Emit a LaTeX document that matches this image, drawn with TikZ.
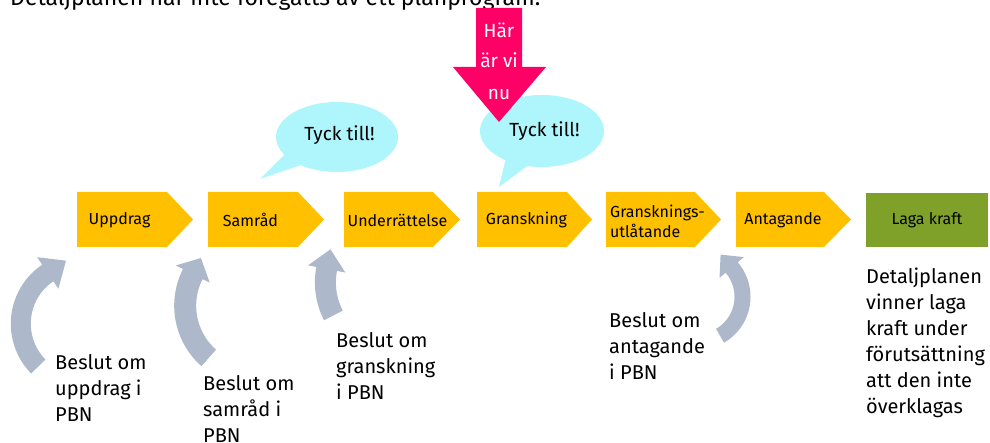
\documentclass[tikz,border=0pt]{standalone}
\usepackage{fontspec}
\setmainfont{Fira Sans}
\usetikzlibrary{shapes.geometric}
\definecolor{chevyellow}{RGB}{255,192,0}
\definecolor{lagagreen}{RGB}{127,161,42}
\definecolor{pinkarrow}{RGB}{255,0,102}
\definecolor{bubblecyan}{RGB}{174,246,251}
\definecolor{arrowgray}{RGB}{173,185,202}
\newcommand\curvarrow[9]{%
  \pgfmathsetmacro\myTa{#5+#9*90}%
  \fill[arrowgray] plot[domain=#4:#5,samples=40] ({#1+(#3+#6)*cos(\x)},{#2+(#3+#6)*sin(\x)})
    -- ({#1+(#3+#7)*cos(#5)},{#2+(#3+#7)*sin(#5)})
    -- ({#1+#3*cos(#5)+#8*cos(\myTa)},{#2+#3*sin(#5)+#8*sin(\myTa)})
    -- ({#1+(#3-#7)*cos(#5)},{#2+(#3-#7)*sin(#5)})
    -- plot[domain=#5:#4,samples=40] ({#1+(#3-#6)*cos(\x)},{#2+(#3-#6)*sin(\x)}) -- cycle;}
\newcommand\chevron[3]{%
  \fill[chevyellow] (#1,192) -- (#2,192) -- (#3,219.5) -- (#2,247) -- (#1,247) -- cycle;}
\tikzset{
  boxtext/.style={inner sep=0pt, font=\fontsize{16}{20}\selectfont, text=black},
  labeltext/.style={inner sep=0pt, anchor=north west, align=left, font=\fontsize{20}{26}\selectfont, text=black},
  bubble/.style={ellipse, fill=bubblecyan, inner sep=0pt},
  bubbletext/.style={inner sep=0pt, font=\fontsize{19}{23}\selectfont, text=black},
}
\begin{document}
\begin{tikzpicture}[x=1pt,y=-1pt]
\useasboundingbox (0,0) rectangle (990,443);
\clip (0,0) rectangle (990,443);
% title (cut by the top edge)
\node[inner sep=0pt, anchor=base west, font=\fontsize{23}{28}\selectfont] (title) at (10,6) {Detaljplanen har inte föregåtts av ett planprogram.};
% speech bubbles
\fill[bubblecyan] (287,152) -- (260,179) -- (304,164) -- cycle;
\node[bubble, minimum width=122pt, minimum height=70pt] (b1) at (337,137) {};
\node[bubbletext] (t1) at (339.5,135) {Tyck till!};
\fill[bubblecyan] (506,158) -- (499,187) -- (530,164) -- cycle;
\node[bubble, minimum width=124pt, minimum height=72pt] (b2) at (542,131) {};
\node[bubbletext] (t2) at (544.5,131.5) {Tyck till!};
% pink arrow
\fill[pinkarrow] (476,8) -- (522,8) -- (522,67) -- (546,67) -- (499,122) -- (453,67) -- (476,67) -- cycle;
\node[inner sep=0pt, anchor=base, font=\fontsize{19}{23}\selectfont, text=white] (h1) at (499,38) {Här};
\node[inner sep=0pt, anchor=base, font=\fontsize{19}{23}\selectfont, text=white] (h2) at (499,68) {är vi};
\node[inner sep=0pt, anchor=base, font=\fontsize{19}{23}\selectfont, text=white] (h3) at (499,100) {nu};
% process chevrons
\chevron{77}{167}{193}
\chevron{208}{298}{324}
\chevron{344}{433}{460}
\chevron{477}{567}{592}
\chevron{606}{695}{721}
\chevron{736}{824}{851}
\fill[lagagreen] (866,193) rectangle (988,247);
\node[boxtext] (c1) at (119.5,220) {Uppdrag};
\node[boxtext] (c2) at (250.5,220) {Samråd};
\node[boxtext] (c3) at (397.5,220) {Underrättelse};
\node[boxtext] (c4) at (526.5,220) {Granskning};
\node[boxtext, align=left] (c5) at (657.5,221) {Gransknings-\\utlåtande};
\node[boxtext] (c6) at (783,220) {Antagande};
\node[boxtext] (c7) at (927,220) {Laga kraft};
% curved decision arrows
\curvarrow{82}{323.7}{61.2}{135.6}{236}{10}{19}{22}{1}
\curvarrow{254.9}{305.7}{69.7}{131.5}{207}{11}{19}{18}{1}
\curvarrow{397}{282.5}{71.6}{152.6}{190.9}{10.5}{19}{20}{1}
\curvarrow{697.5}{296.8}{45}{60}{-40.6}{8}{16}{17}{-1}
% labels
\node[labeltext] (l1) at (55,354.5) {Beslut om\\uppdrag i\\PBN};
\node[labeltext] (l2) at (203,375.5) {Beslut om\\samråd i\\PBN};
\node[labeltext] (l3) at (336,332.5) {Beslut om\\granskning\\i PBN};
\node[labeltext] (l4) at (609,312.5) {Beslut om\\antagande\\i PBN};
\node[labeltext] (l5) at (866,267.5) {Detaljplanen\\vinner laga\\kraft under\\förutsättning\\att den inte\\överklagas};
\end{tikzpicture}
\end{document}
